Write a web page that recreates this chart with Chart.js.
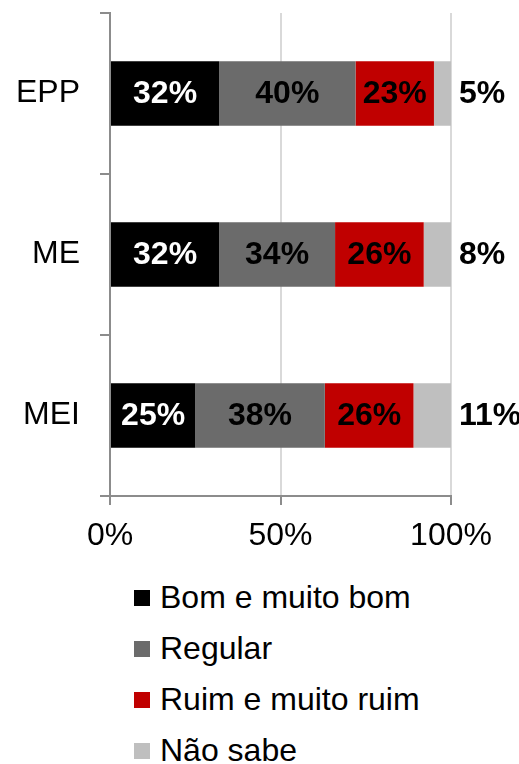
<!DOCTYPE html>
<html>
<head>
<meta charset="utf-8">
<script src="https://cdn.jsdelivr.net/npm/chart.js@4"></script>
<style>
    body { margin: 0; background: #fff; font-family: "Liberation Sans", Arial, sans-serif; }
    #wrap { position: relative; width: 519px; height: 764px; }
    #chart { position: absolute; left: 0; top: 0; }
    #legend { position: absolute; left: 134px; top: 572px; }
    .row { height: 51px; display: flex; align-items: center; font-size: 32px; color: #000; }
    .box { width: 16px; height: 16px; margin-right: 10px; }
</style>
</head>
<body>
<div id="wrap">
    <canvas id="chart" width="519" height="560"></canvas>
    <div id="legend"></div>
</div>
<script>
// Data
const categories = ['EPP', 'ME', 'MEI'];
const seriesNames = ['Bom e muito bom', 'Regular', 'Ruim e muito ruim', 'Não sabe'];
const bomValues = [32, 32, 25];
const regularValues = [40, 34, 38];
const ruimValues = [23, 26, 26];
const naoSabeValues = [5, 8, 11];
const tickLabels = ['0%', '50%', '100%'];

const colors = ['#000000', '#6b6b6b', '#c00000', '#bfbfbf'];
const labelColors = ['#ffffff', '#000000', '#000000', '#000000'];
const FONT = '"Liberation Sans", Arial, sans-serif';

// Labels on the bars
const barLabels = {
    id: 'barLabels',
    afterDatasetsDraw(chart) {
        const ctx = chart.ctx;
        ctx.save();
        ctx.font = 'bold 32px ' + FONT;
        ctx.textBaseline = 'middle';
        chart.data.datasets.forEach((ds, i) => {
            chart.getDatasetMeta(i).data.forEach((bar, j) => {
                const text = ds.data[j] + '%';
                ctx.fillStyle = labelColors[i];
                if (i === 3) {
                    ctx.textAlign = 'left';
                    ctx.fillText(text, chart.chartArea.right + 8, bar.y + 1);
                } else {
                    ctx.textAlign = 'center';
                    ctx.fillText(text, (bar.x + bar.base) / 2, bar.y + 1);
                }
            });
        });
        ctx.restore();
    }
};

const data = [bomValues, regularValues, ruimValues, naoSabeValues];

new Chart(document.getElementById('chart').getContext('2d'), {
    type: 'bar',
    data: {
        labels: categories,
        datasets: seriesNames.map((name, i) => ({
            label: name,
            data: data[i],
            backgroundColor: colors[i],
            borderWidth: 0,
            categoryPercentage: 0.4,
            barPercentage: 1
        }))
    },
    options: {
        indexAxis: 'y',
        responsive: false,
        animation: false,
        layout: { padding: { top: 13, right: 68, left: 0, bottom: 0 } },
        plugins: {
            legend: { display: false },
            tooltip: { enabled: false }
        },
        scales: {
            x: {
                stacked: true,
                min: 0,
                max: 100,
                ticks: {
                    stepSize: 50,
                    padding: 12,
                    color: '#000',
                    font: { family: FONT, size: 32 },
                    callback: (v) => tickLabels[v / 50]
                },
                grid: {
                    color: (c) => c.tick && c.tick.value === 0 ? 'rgba(0,0,0,0)' : '#d9d9d9',
                    tickColor: '#8c8c8c',
                    tickLength: 9,
                    lineWidth: 2
                },
                border: { color: '#8c8c8c', width: 2 },
                afterFit: (s) => { s.height = 64; s.paddingLeft = 0; s.paddingRight = 0; }
            },
            y: {
                stacked: true,
                ticks: {
                    padding: 20,
                    color: '#000',
                    font: { family: FONT, size: 32 }
                },
                grid: {
                    offset: true,
                    drawOnChartArea: false,
                    tickColor: '#8c8c8c',
                    tickLength: 10,
                    lineWidth: 2
                },
                border: { color: '#8c8c8c', width: 2 },
                afterFit: (s) => { s.width = 110; s.paddingTop = 0; s.paddingBottom = 0; }
            }
        }
    },
    plugins: [barLabels]
});

// Legend
const legend = document.getElementById('legend');
seriesNames.forEach((name, i) => {
    const row = document.createElement('div');
    row.className = 'row';
    row.innerHTML = `<span class="box" style="background:${colors[i]}"></span><span>${name}</span>`;
    legend.appendChild(row);
});
</script>
</body>
</html>
